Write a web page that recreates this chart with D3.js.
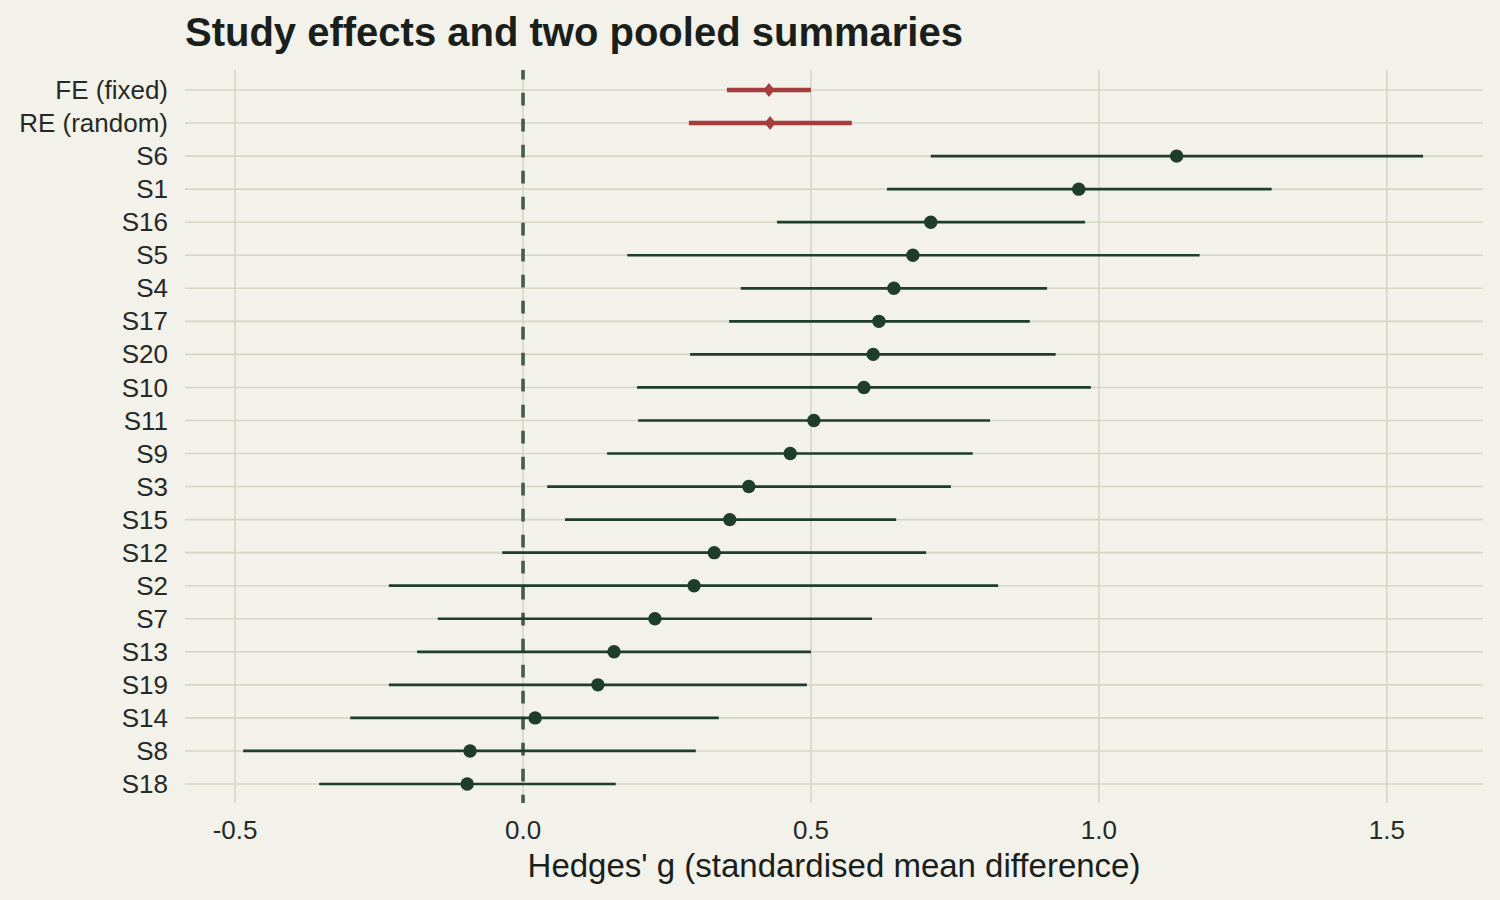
<!DOCTYPE html>
<html>
<head>
<meta charset="utf-8">
<script src="https://cdn.jsdelivr.net/npm/d3@7"></script>
<style>
  body { margin: 0; background: #f2f1ea; }
  svg { display: block; font-family: "Liberation Sans", Arial, sans-serif; }
</style>
</head>
<body>
<svg id="chart" width="1500" height="900"></svg>
<script>
// rows, top to bottom
const labels = ["FE (fixed)", "RE (random)", "S6", "S1", "S16", "S5", "S4", "S17", "S20", "S10",
  "S11", "S9", "S3", "S15", "S12", "S2", "S7", "S13", "S19", "S14", "S8", "S18"];
const estimates = [0.427, 0.429, 1.135, 0.965, 0.708, 0.677, 0.644, 0.618, 0.608, 0.592,
  0.505, 0.464, 0.392, 0.359, 0.332, 0.297, 0.229, 0.158, 0.130, 0.021, -0.092, -0.097];
const lower = [0.354, 0.288, 0.708, 0.632, 0.441, 0.181, 0.378, 0.358, 0.290, 0.198,
  0.200, 0.146, 0.042, 0.073, -0.036, -0.233, -0.148, -0.184, -0.233, -0.300, -0.486, -0.354];
const upper = [0.500, 0.571, 1.563, 1.300, 0.976, 1.175, 0.910, 0.880, 0.925, 0.986,
  0.811, 0.781, 0.743, 0.648, 0.700, 0.825, 0.606, 0.500, 0.493, 0.340, 0.300, 0.161];
const pooled = ["FE (fixed)", "RE (random)"];
const xTicks = [-0.5, 0, 0.5, 1.0, 1.5];

const rows = labels.map((d, i) => ({ name: d, est: estimates[i], lo: lower[i], hi: upper[i] }));

const svg = d3.select("#chart");
const plotLeft = 185, plotRight = 1483, plotTop = 70, plotBottom = 803;

const x = d3.scaleLinear().domain([-0.587, 1.667]).range([plotLeft, plotRight]);
const y = d3.scalePoint().domain(labels).range([90, 784]);

// grid
svg.append("g")
  .selectAll("line")
  .data(xTicks)
  .join("line")
  .attr("x1", d => x(d)).attr("x2", d => x(d))
  .attr("y1", plotTop).attr("y2", plotBottom)
  .attr("stroke", "#d6d6c4").attr("stroke-width", 1.6);

svg.append("g")
  .selectAll("line")
  .data(labels)
  .join("line")
  .attr("x1", plotLeft).attr("x2", plotRight)
  .attr("y1", d => y(d)).attr("y2", d => y(d))
  .attr("stroke", "#d6d6c4").attr("stroke-width", 1.6);

// zero reference
svg.append("line")
  .attr("x1", x(0)).attr("x2", x(0))
  .attr("y1", plotTop).attr("y2", plotBottom)
  .attr("stroke", "#465a4e").attr("stroke-width", 3.6)
  .attr("stroke-dasharray", "12.7,13.3")
  .attr("stroke-dashoffset", 3.3);

// study rows
const studies = rows.filter(d => !pooled.includes(d.name));
const sums = rows.filter(d => pooled.includes(d.name));

svg.append("g")
  .selectAll("line")
  .data(studies)
  .join("line")
  .attr("x1", d => x(d.lo)).attr("x2", d => x(d.hi))
  .attr("y1", d => y(d.name)).attr("y2", d => y(d.name))
  .attr("stroke", "#1e3d2b").attr("stroke-width", 2.7);

svg.append("g")
  .selectAll("circle")
  .data(studies)
  .join("circle")
  .attr("cx", d => x(d.est)).attr("cy", d => y(d.name))
  .attr("r", 6.7)
  .attr("fill", "#1e3d2b");

// pooled summaries
svg.append("g")
  .selectAll("line")
  .data(sums)
  .join("line")
  .attr("x1", d => x(d.lo)).attr("x2", d => x(d.hi))
  .attr("y1", d => y(d.name)).attr("y2", d => y(d.name))
  .attr("stroke", "#a63d3d").attr("stroke-width", 4.5);

svg.append("g")
  .selectAll("path")
  .data(sums)
  .join("path")
  .attr("transform", d => "translate(" + x(d.est) + "," + y(d.name) + ")")
  .attr("d", "M0,-7L5.5,0L0,7L-5.5,0Z")
  .attr("fill", "#a63d3d");

// y labels
svg.append("g")
  .selectAll("text")
  .data(labels)
  .join("text")
  .attr("x", 168)
  .attr("y", d => y(d))
  .attr("dy", "0.35em")
  .attr("text-anchor", "end")
  .attr("font-size", "26px")
  .attr("fill", "#262a27")
  .text(d => d);

// x tick labels (plain hyphen for negatives)
svg.append("g")
  .selectAll("text")
  .data(xTicks)
  .join("text")
  .attr("x", d => x(d))
  .attr("y", 839)
  .attr("text-anchor", "middle")
  .attr("font-size", "26px")
  .attr("fill", "#262a27")
  .text(d => d3.format(".1f")(d).replace("\u2212", "-"));

svg.append("text")
  .attr("x", (plotLeft + plotRight) / 2)
  .attr("y", 877)
  .attr("text-anchor", "middle")
  .attr("font-size", "33px")
  .attr("fill", "#1a1f1b")
  .text("Hedges' g (standardised mean difference)");

svg.append("text")
  .attr("x", 185)
  .attr("y", 46)
  .attr("font-size", "40px")
  .attr("font-weight", "bold")
  .attr("fill", "#1a1f1b")
  .text("Study effects and two pooled summaries");
</script>
</body>
</html>
